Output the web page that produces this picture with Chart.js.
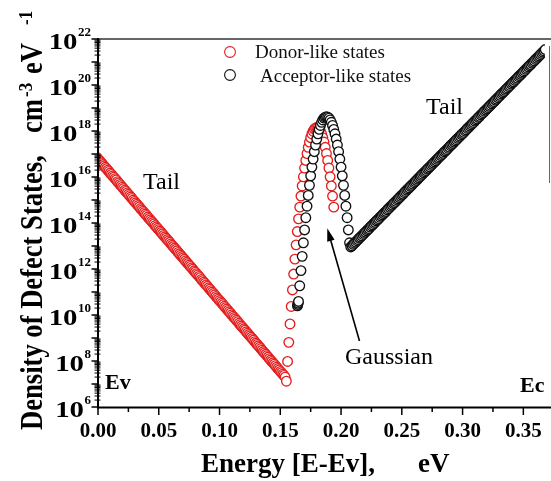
<!DOCTYPE html>
<html><head><meta charset="utf-8">
<script src="https://cdn.jsdelivr.net/npm/chart.js@4"></script>
<style>html,body{margin:0;padding:0;background:#fff;overflow:hidden}</style>
</head><body>
<canvas id="c" width="551" height="481"></canvas>
<script>
// ---- Data (energy in eV, density exponent log10(N / cm^-3 eV^-1)) ----
const donorTailX = [-0.004,-0.003,-0.002,-0.001,
0.000,0.001,0.002,0.003,0.004,0.005,0.006,0.007,0.008,0.009,
0.010,0.011,0.012,0.013,0.014,0.015,0.016,0.017,0.018,0.019,
0.020,0.021,0.022,0.023,0.024,0.025,0.026,0.027,0.028,0.029,
0.030,0.031,0.032,0.033,0.034,0.035,0.036,0.037,0.038,0.039,
0.040,0.041,0.042,0.043,0.044,0.045,0.046,0.047,0.048,0.049,
0.050,0.051,0.052,0.053,0.054,0.055,0.056,0.057,0.058,0.059,
0.060,0.061,0.062,0.063,0.064,0.065,0.066,0.067,0.068,0.069,
0.070,0.071,0.072,0.073,0.074,0.075,0.076,0.077,0.078,0.079,
0.080,0.081,0.082,0.083,0.084,0.085,0.086,0.087,0.088,0.089,
0.090,0.091,0.092,0.093,0.094,0.095,0.096,0.097,0.098,0.099,
0.100,0.101,0.102,0.103,0.104,0.105,0.106,0.107,0.108,0.109,
0.110,0.111,0.112,0.113,0.114,0.115,0.116,0.117,0.118,0.119,
0.120,0.121,0.122,0.123,0.124,0.125,0.126,0.127,0.128,0.129,
0.130,0.131,0.132,0.133,0.134,0.135,0.136,0.137,0.138,0.139,
0.140,0.141,0.142,0.143,0.144,0.145,0.146,0.147,0.148,0.149,
0.150,0.151,0.152,0.153,0.154];
const donorTailExp = [17.04,16.97,16.91,16.85,
16.79,16.73,16.67,16.61,16.54,16.48,16.42,16.36,16.30,16.24,
16.17,16.11,16.05,15.99,15.93,15.87,15.80,15.74,15.68,15.62,
15.56,15.50,15.43,15.37,15.31,15.25,15.19,15.13,15.07,15.00,
14.94,14.88,14.82,14.76,14.70,14.63,14.57,14.51,14.45,14.39,
14.33,14.26,14.20,14.14,14.08,14.02,13.96,13.89,13.83,13.77,
13.71,13.65,13.59,13.53,13.46,13.40,13.34,13.28,13.22,13.16,
13.09,13.03,12.97,12.91,12.85,12.79,12.72,12.66,12.60,12.54,
12.48,12.42,12.35,12.29,12.23,12.17,12.11,12.05,11.99,11.92,
11.86,11.80,11.74,11.68,11.62,11.55,11.49,11.43,11.37,11.31,
11.25,11.18,11.12,11.06,11.00,10.94,10.88,10.81,10.75,10.69,
10.63,10.57,10.51,10.45,10.38,10.32,10.26,10.20,10.14,10.08,
10.01,9.95,9.89,9.83,9.77,9.71,9.64,9.58,9.52,9.46,
9.40,9.34,9.27,9.21,9.15,9.09,9.03,8.97,8.91,8.84,
8.78,8.72,8.66,8.60,8.54,8.47,8.41,8.35,8.29,8.23,
8.17,8.10,8.04,7.98,7.92,7.86,7.80,7.73,7.67,7.61,
7.55,7.49,7.43,7.37,7.30];

const donorGaussX = [0.155,0.156,0.157,0.158,0.159,0.160,0.161,0.162,0.163,0.164,
0.165,0.166,0.167,0.168,0.169,0.170,0.171,0.172,0.173,0.174,
0.175,0.176,0.177,0.178,0.179,0.180,0.181,0.182,0.183,0.184,
0.185,0.186,0.187,0.188,0.189,0.190,0.191,0.192,0.193,0.194];
const donorGaussExp = [7.12,7.98,8.81,9.61,10.37,11.09,11.78,12.43,13.05,13.63,
14.18,14.69,15.17,15.61,16.01,16.39,16.72,17.02,17.29,17.52,
17.71,17.87,17.99,18.08,18.13,18.15,18.13,18.08,17.99,17.87,
17.71,17.52,17.29,17.02,16.72,16.39,16.01,15.61,15.17,14.69];

const acceptorGaussX = [0.1641,0.1644,0.1647,
0.165,0.166,0.167,0.168,0.169,0.170,0.171,0.172,0.173,0.174,
0.175,0.176,0.177,0.178,0.179,0.180,0.181,0.182,0.183,0.184,
0.185,0.186,0.187,0.188,0.189,0.190,0.191,0.192,0.193,0.194,
0.195,0.196,0.197,0.198,0.199,0.200,0.201,0.202,0.203,0.204,
0.205,0.206,0.207];
const acceptorGaussExp = [10.40,10.46,10.52,
10.59,11.27,11.93,12.55,13.14,13.70,14.23,14.73,15.20,15.64,
16.05,16.43,16.78,17.10,17.39,17.65,17.88,18.07,18.24,18.38,
18.48,18.56,18.60,18.62,18.60,18.56,18.48,18.38,18.24,18.07,
17.88,17.65,17.39,17.10,16.78,16.43,16.05,15.64,15.20,14.73,
14.23,13.70,13.14];

const acceptorTailX = [0.208,0.209,
0.210,0.211,0.212,0.213,0.214,0.215,0.216,0.217,0.218,0.219,
0.220,0.221,0.222,0.223,0.224,0.225,0.226,0.227,0.228,0.229,
0.230,0.231,0.232,0.233,0.234,0.235,0.236,0.237,0.238,0.239,
0.240,0.241,0.242,0.243,0.244,0.245,0.246,0.247,0.248,0.249,
0.250,0.251,0.252,0.253,0.254,0.255,0.256,0.257,0.258,0.259,
0.260,0.261,0.262,0.263,0.264,0.265,0.266,0.267,0.268,0.269,
0.270,0.271,0.272,0.273,0.274,0.275,0.276,0.277,0.278,0.279,
0.280,0.281,0.282,0.283,0.284,0.285,0.286,0.287,0.288,0.289,
0.290,0.291,0.292,0.293,0.294,0.295,0.296,0.297,0.298,0.299,
0.300,0.301,0.302,0.303,0.304,0.305,0.306,0.307,0.308,0.309,
0.310,0.311,0.312,0.313,0.314,0.315,0.316,0.317,0.318,0.319,
0.320,0.321,0.322,0.323,0.324,0.325,0.326,0.327,0.328,0.329,
0.330,0.331,0.332,0.333,0.334,0.335,0.336,0.337,0.338,0.339,
0.340,0.341,0.342,0.343,0.344,0.345,0.346,0.347,0.348,0.349,
0.350,0.351,0.352,0.353,0.354,0.355,0.356,0.357,0.358,0.359,
0.360,0.361,0.362,0.363,0.364,0.365,0.366,0.367,0.368,0.369,
0.370];
const acceptorTailExp = [12.96,13.01,
13.07,13.12,13.17,13.23,13.28,13.34,13.39,13.44,13.50,13.55,
13.60,13.66,13.71,13.76,13.82,13.87,13.92,13.98,14.03,14.09,
14.14,14.19,14.25,14.30,14.35,14.41,14.46,14.51,14.57,14.62,
14.68,14.73,14.78,14.84,14.89,14.94,15.00,15.05,15.10,15.16,
15.21,15.26,15.32,15.37,15.43,15.48,15.53,15.59,15.64,15.69,
15.75,15.80,15.85,15.91,15.96,16.02,16.07,16.12,16.18,16.23,
16.28,16.34,16.39,16.44,16.50,16.55,16.60,16.66,16.71,16.77,
16.82,16.87,16.93,16.98,17.03,17.09,17.14,17.19,17.25,17.30,
17.36,17.41,17.46,17.52,17.57,17.62,17.68,17.73,17.78,17.84,
17.89,17.94,18.00,18.05,18.11,18.16,18.21,18.27,18.32,18.37,
18.43,18.48,18.53,18.59,18.64,18.70,18.75,18.80,18.86,18.91,
18.96,19.02,19.07,19.12,19.18,19.23,19.28,19.34,19.39,19.45,
19.50,19.55,19.61,19.66,19.71,19.77,19.82,19.87,19.93,19.98,
20.04,20.09,20.14,20.20,20.25,20.30,20.36,20.41,20.46,20.52,
20.57,20.62,20.68,20.73,20.79,20.84,20.89,20.95,21.00,21.05,
21.11,21.16,21.21,21.27,21.32,21.38,21.43,21.48,21.54,21.59,
21.64];

const xTickValues = [0, 0.05, 0.10, 0.15, 0.20, 0.25, 0.30, 0.35];
const xTickLabels = ['0.00','0.05','0.10','0.15','0.20','0.25','0.30','0.35'];
const xMinorValues = [0.025, 0.075, 0.125, 0.175, 0.225, 0.275, 0.325];
const yLabelExps = [6, 8, 10, 12, 14, 16, 18, 20, 22];
const yDecadeExps = [6,7,8,9,10,11,12,13,14,15,16,17,18,19,20,21,22];

const RED = 'rgb(228,30,30)';
const BLACK = '#111111';
const SERIF = '"Liberation Serif","Times New Roman",serif';

function pts(xs, es) { return xs.map((x, i) => ({ x: x, y: Math.pow(10, es[i]) })); }

const donorData = pts(donorTailX, donorTailExp).concat(pts(donorGaussX, donorGaussExp));
const acceptorData = pts(acceptorGaussX, acceptorGaussExp).concat(pts(acceptorTailX, acceptorTailExp));

const decor = {
  id: 'decor',
  afterDraw(chart) {
    const ctx = chart.ctx, xs = chart.scales.x, ys = chart.scales.y, ca = chart.chartArea;
    ctx.save();
    // frame
    ctx.strokeStyle = '#333'; ctx.lineWidth = 1.5;
    ctx.beginPath(); ctx.moveTo(ca.left, ca.top); ctx.lineTo(551, ca.top); ctx.stroke();
    ctx.strokeStyle = '#666'; ctx.lineWidth = 1;
    ctx.beginPath(); ctx.moveTo(549.5, 46); ctx.lineTo(549.5, 183); ctx.stroke();
    ctx.strokeStyle = '#000'; ctx.lineWidth = 2;
    ctx.beginPath(); ctx.moveTo(ca.left, ca.top - 1); ctx.lineTo(ca.left, ca.bottom + 1.5); ctx.stroke();
    ctx.beginPath(); ctx.moveTo(ca.left - 1, ca.bottom + 0.5); ctx.lineTo(551, ca.bottom + 0.5); ctx.stroke();
    // y ticks
    ctx.lineWidth = 1.5;
    yDecadeExps.forEach(e => {
      const y = ys.getPixelForValue(Math.pow(10, e));
      ctx.beginPath(); ctx.moveTo(ca.left - 6.5, y); ctx.lineTo(ca.left, y); ctx.stroke();
      if (e < 22) {
        for (let m = 2; m <= 9; m++) {
          const ym = ys.getPixelForValue(m * Math.pow(10, e));
          ctx.lineWidth = 1;
          ctx.beginPath(); ctx.moveTo(ca.left - 3.5, ym); ctx.lineTo(ca.left + 2.5, ym); ctx.stroke();
          ctx.lineWidth = 1.5;
        }
      }
    });
    // x ticks
    ctx.lineWidth = 1.5;
    xTickValues.forEach(v => {
      const x = xs.getPixelForValue(v);
      ctx.beginPath(); ctx.moveTo(x, ca.bottom); ctx.lineTo(x, ca.bottom + 8); ctx.stroke();
    });
    xMinorValues.forEach(v => {
      const x = xs.getPixelForValue(v);
      ctx.beginPath(); ctx.moveTo(x, ca.bottom); ctx.lineTo(x, ca.bottom + 5); ctx.stroke();
    });
    // x tick labels
    ctx.fillStyle = '#000';
    ctx.font = 'bold 21px ' + SERIF;
    ctx.textAlign = 'center'; ctx.textBaseline = 'alphabetic';
    xTickValues.forEach((v, i) => {
      ctx.fillText(xTickLabels[i], xs.getPixelForValue(v), 437);
    });
    // y tick labels: 10^n
    yLabelExps.forEach(e => {
      const y = ys.getPixelForValue(Math.pow(10, e));
      const right = 91;
      ctx.font = 'bold 13px ' + SERIF;
      const sup = String(e);
      const ws = ctx.measureText(sup).width;
      ctx.textAlign = 'left';
      ctx.fillText(sup, right - ws, y - 3);
      ctx.font = 'bold 24px ' + SERIF;
      ctx.save();
      ctx.translate(right - ws - 0.5, y + 10);
      ctx.scale(1.2, 1);
      ctx.textAlign = 'right';
      ctx.fillText('10', 0, 0);
      ctx.restore();
    });
    // axis titles
    ctx.textAlign = 'left';
    ctx.font = 'bold 27px ' + SERIF;
    ctx.fillText('Energy [E-Ev],', 201, 472);
    ctx.fillText('eV', 418, 472);
    ctx.save();
    ctx.translate(42, 430);
    ctx.rotate(-Math.PI / 2);
    ctx.scale(1, 1.15);
    ctx.font = 'bold 26.6px ' + SERIF;
    ctx.fillText('Density of Defect States,', 0, 0);
    ctx.fillText('cm', 297, 0);
    ctx.font = 'bold 17px ' + SERIF;
    ctx.fillText('-3', 333, -9);
    ctx.font = 'bold 26.6px ' + SERIF;
    ctx.fillText('eV', 356, 0);
    ctx.font = 'bold 17px ' + SERIF;
    ctx.fillText('-1', 405, -9);
    ctx.restore();
    // annotations
    ctx.font = '24px ' + SERIF;
    ctx.fillText('Tail', 143, 188.5);
    ctx.fillText('Tail', 426, 113.5);
    ctx.fillText('Gaussian', 345, 363.5);
    ctx.font = 'bold 22px ' + SERIF;
    ctx.fillText('Ev', 105, 388.5);
    ctx.fillText('Ec', 520, 391.5);
    // arrow
    ctx.strokeStyle = '#000'; ctx.lineWidth = 1.6;
    const ax0 = 359.5, ay0 = 341, ax1 = 327.3, ay1 = 228.3;
    const ang = Math.atan2(ay1 - ay0, ax1 - ax0);
    ctx.beginPath(); ctx.moveTo(ax0, ay0);
    ctx.lineTo(ax1 - 10 * Math.cos(ang), ay1 - 10 * Math.sin(ang)); ctx.stroke();
    ctx.beginPath();
    ctx.moveTo(ax1, ay1);
    ctx.lineTo(ax1 - 13 * Math.cos(ang) + 3.8 * Math.sin(ang), ay1 - 13 * Math.sin(ang) - 3.8 * Math.cos(ang));
    ctx.lineTo(ax1 - 13 * Math.cos(ang) - 3.8 * Math.sin(ang), ay1 - 13 * Math.sin(ang) + 3.8 * Math.cos(ang));
    ctx.closePath(); ctx.fillStyle = '#000'; ctx.fill();
    // legend
    const items = [
      { c: chart.data.datasets[0].borderColor, t: chart.data.datasets[0].label, cx: 230, cy: 52, tx: 255, ty: 57.5 },
      { c: chart.data.datasets[1].borderColor, t: chart.data.datasets[1].label, cx: 230, cy: 75, tx: 260, ty: 81.5 }
    ];
    ctx.font = '19px ' + SERIF;
    items.forEach(it => {
      ctx.beginPath(); ctx.arc(it.cx, it.cy, 5.4, 0, Math.PI * 2);
      ctx.fillStyle = '#fff'; ctx.fill();
      ctx.strokeStyle = it.c; ctx.lineWidth = 1.1; ctx.stroke();
      ctx.fillStyle = '#111';
      ctx.fillText(it.t, it.tx, it.ty);
    });
    ctx.restore();
  }
};

new Chart(document.getElementById('c'), {
  type: 'scatter',
  data: {
    datasets: [
      { label: 'Donor-like states', data: donorData, borderColor: RED, backgroundColor: '#fff',
        pointRadius: 4.8, pointHoverRadius: 4.8, borderWidth: 1.35, showLine: false, clip: 0, order: 1 },
      { label: 'Acceptor-like states', data: acceptorData, borderColor: BLACK, backgroundColor: '#fff',
        pointRadius: 4.8, pointHoverRadius: 4.8, borderWidth: 1.35, showLine: false, clip: 0, order: 0 }
    ]
  },
  options: {
    responsive: false, animation: false, devicePixelRatio: 1,
    layout: { padding: { top: 39, right: 1, left: 0, bottom: 0 } },
    plugins: { legend: { display: false }, tooltip: { enabled: false } },
    events: [],
    scales: {
      x: { type: 'linear', min: 0, max: 0.3677,
        ticks: { display: false }, grid: { display: false }, border: { display: false },
        afterFit(s) { s.height = 74; } },
      y: { type: 'logarithmic', min: 1e6, max: 1e22,
        ticks: { display: false }, grid: { display: false }, border: { display: false },
        afterFit(s) { s.width = 98; } }
    }
  },
  plugins: [decor]
});
</script>
</body></html>
